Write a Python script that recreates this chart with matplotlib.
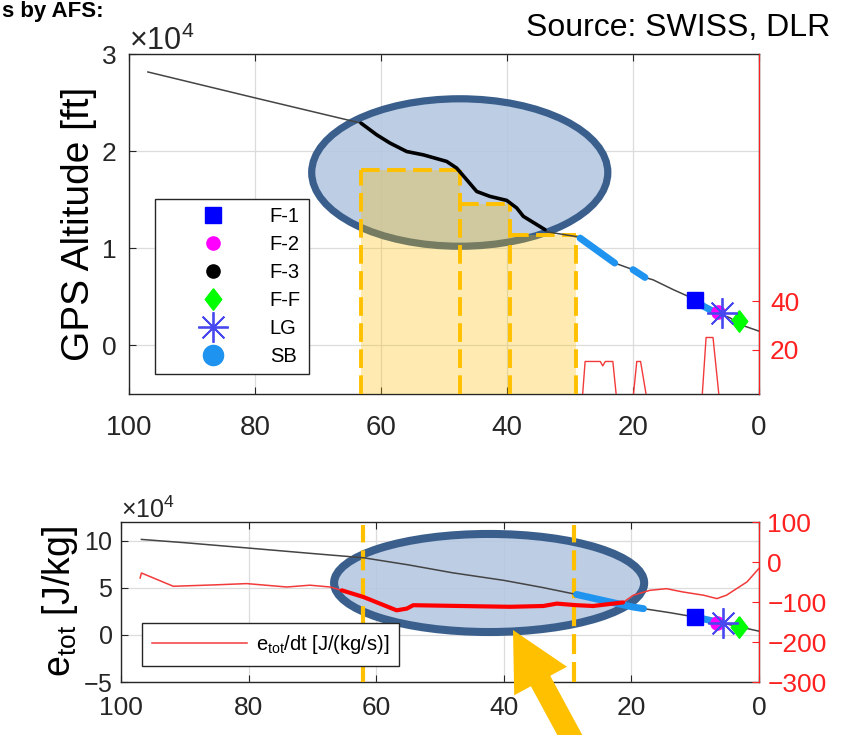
import matplotlib
matplotlib.use('Agg')
import matplotlib.pyplot as plt
import numpy as np
from matplotlib.patches import Ellipse, Rectangle, FancyArrow
from matplotlib.lines import Line2D
from matplotlib.ticker import ScalarFormatter

plt.rcParams['font.family'] = ['Liberation Sans', 'DejaVu Sans']
plt.rcParams['mathtext.fontset'] = 'custom'
plt.rcParams['mathtext.rm'] = 'Liberation Sans'
plt.rcParams['mathtext.it'] = 'Liberation Sans:italic'

# ---------------- data: top panel (distance [NM] vs GPS altitude [ft]) ----------------
alt_dist = [97.0, 80.3, 63.17, 60.68, 58.57, 55.92, 53.29, 49.57, 47.98, 46.40, 44.81,
            42.70, 40.05, 38.46, 37.41, 33.97, 33.7, 28.95, 28.4, 22.9, 20.0, 18.1,
            16.8, 13.6, 11.5, 10.2, 8.8, 7.3, 4.6, 3.0, 0.0]
alt_ft = [28150, 25530, 22880, 21680, 20830, 19960, 19620, 18940, 18250, 17060, 15850,
          15340, 14930, 14150, 13290, 11920, 11700, 11200, 11050, 8480, 7800, 7000,
          6750, 5740, 5130, 4700, 4030, 3520, 2840, 2150, 1470]
highlight_range = (63.17, 33.97)           # thick black part
sb_ranges_top = [(28.4, 22.9), (20.0, 18.1), (10.2, 7.3)]

# speed-brake / red signal on right axis (top)
red_top_dist = [29.0, 28.05, 27.6, 25.2, 24.8, 24.4, 23.2, 22.6, 20.0, 19.4, 18.8, 17.8,
                9.05, 8.4, 7.3, 6.3, 0.0]
red_top_val = [0, 0, 15.3, 15.3, 13.5, 15.3, 15.3, 0, 0, 15.3, 15.3, 0,
               0, 25.1, 25.1, 0, 0]

# events (top)
ev_labels = ['F-1', 'F-2', 'F-3', 'F-F', 'LG', 'SB']
ev_top_dist = {'F-1': 10.2, 'F-2': 6.5, 'LG': 5.8, 'F-F': 3.2}
ev_top_alt = {'F-1': 4700, 'F-2': 3450, 'LG': 3360, 'F-F': 2500}

# highlighted boxes (top)
box_edges = [63.1, 47.5, 39.6, 29.1]
box_tops = [18080, 14560, 11330]

# ---------------- data: bottom panel (total energy) ----------------
e_dist = [96.8, 90, 80, 70, 62, 55, 48, 40, 34, 28.6, 24, 19.7, 14, 10, 6, 3, 0]
e_tot = [101500, 98000, 92300, 86500, 82000, 74500, 66000, 58000, 50500, 43000, 36000,
         29600, 23700, 19000, 13000, 8500, 4000]
sb_ranges_bot = [(28.6, 18.1), (10.0, 7.2)]

de_dist = [97.0, 96.8, 91.8, 85.0, 80.3, 74.0, 70.4, 67.2, 65.4, 62.0, 56.8, 55.2, 54.2,
           43.7, 39.0, 33.8, 31.7, 28.6, 26.0, 21.3, 19.7, 17.1, 14.5, 11.9, 8.7, 6.6,
           5.1, 1.9, 0.0]
de_val = [-40, -27.5, -60.7, -57, -54, -62.5, -58, -62.5, -70.8, -87.5, -120.8, -116.5,
          -108, -110.8, -112, -110, -104, -108, -110, -101, -83, -70.8, -66.7, -75, -83,
          -91.5, -83, -50, -16]
de_thick_range = (65.4, 21.3)

ev_bot_dist = {'F-1': 10.0, 'F-2': 6.6, 'LG': 5.7, 'F-F': 3.1}
ev_bot_e = {'F-1': 18600, 'F-2': 12400, 'LG': 12400, 'F-F': 8500}

bot_marks = [62.1, 29.0]

# ---------------- styles ----------------
DARK = '#262626'
GRID = '#dcdcdc'
SB_C = '#1f93f0'
YEL = '#FFC000'
DASH = (0, (4.8, 1.9))
ELL_FACE = (0.706, 0.780, 0.882, 0.88)
ELL_EDGE = '#3A5F8C'
diamond = [(0, 1), (0.77, 0), (0, -1), (-0.77, 0), (0, 1)]
ev_style = {
    'F-1': dict(marker='s', color='#0000FF', ms=11),
    'F-2': dict(marker='o', color='#FF00FF', ms=9.5),
    'F-3': dict(marker='o', color='black', ms=9.5),
    'F-F': dict(marker=diamond, color='#00FF00', ms=15.5),
    'LG': dict(marker=(8, 2, 0), color='#4848f0', ms=22, mew=1.3),
    'SB': dict(marker='o', color=SB_C, ms=14.5),
}


def seg(xs, ys, lo_hi):
    hi, lo = lo_hi
    xs = np.asarray(xs, float); ys = np.asarray(ys, float)
    m = (xs <= hi + 1e-9) & (xs >= lo - 1e-9)
    return xs[m], ys[m]


fig = plt.figure(figsize=(8.43, 7.35), dpi=100)
ax1 = fig.add_axes([129 / 843, 1 - 394 / 735, 630 / 843, 340 / 735])
ax3 = fig.add_axes([121 / 843, 1 - 682 / 735, 638 / 843, 160 / 735])


def style_axis(ax, fs_x, fs_y, padx, pady):
    ax.set_xlim(100, 0)
    ax.set_xticks([100, 80, 60, 40, 20, 0])
    ax.grid(True, color=GRID, lw=0.9)
    ax.set_axisbelow(True)
    for s in ax.spines.values():
        s.set_color(DARK)
        s.set_linewidth(1.0)
    ax.tick_params(axis='x', direction='in', length=5, labelsize=fs_x, colors=DARK,
                   pad=padx, top=True)
    ax.tick_params(axis='y', direction='in', length=5, labelsize=fs_y, colors=DARK, pad=pady)
    fmt = ScalarFormatter(useMathText=True)
    fmt.set_powerlimits((4, 4))
    ax.yaxis.set_major_formatter(fmt)


# ---------------- top panel ----------------
style_axis(ax1, 20, 19, 15, 9)
ax1.set_ylim(-5000, 30000)
ax1.set_yticks([0, 10000, 20000, 30000])
ax1.yaxis.get_offset_text().set_fontsize(22)
ax1.yaxis.get_offset_text().set_color(DARK)
ax1.set_ylabel('GPS Altitude [ft]', fontsize=28, labelpad=3, color='black')

ax1.add_patch(Ellipse((47.5, 17800), 47.0, 15180, facecolor=ELL_FACE,
                      edgecolor=ELL_EDGE, lw=5.2, zorder=2))
for i in range(3):
    x0, x1 = box_edges[i], box_edges[i + 1]
    ax1.add_patch(Rectangle((x0, -5000), x1 - x0, box_tops[i] + 5000,
                            facecolor=YEL, alpha=0.3, edgecolor='none', zorder=3))
    ax1.plot([x0, x1], [box_tops[i], box_tops[i]], color=YEL, lw=2.8, ls=DASH,
             zorder=3.5)
for j, xe in enumerate(box_edges):
    neigh = [box_tops[k] for k in (j - 1, j) if 0 <= k < len(box_tops)]
    ax1.plot([xe, xe], [-5000, max(neigh)], color=YEL, lw=2.8, ls=DASH, zorder=3.5)

ax1.plot(alt_dist, alt_ft, color='#444444', lw=1.1, zorder=4)
hx, hy = seg(alt_dist, alt_ft, highlight_range)
ax1.plot(hx, hy, color='black', lw=2.6, zorder=4.2, solid_capstyle='round',
         solid_joinstyle='round')
for r in sb_ranges_top:
    sx, sy = seg(alt_dist, alt_ft, r)
    ax1.plot(sx, sy, color=SB_C, lw=5, zorder=4.3, solid_capstyle='round')
for k in ['F-1', 'F-F', 'F-2', 'LG']:
    st = dict(ev_style[k])
    ax1.plot([ev_top_dist[k]], [ev_top_alt[k]], ls='none', zorder=5,
             marker=st['marker'], color=st['color'], ms=st['ms'], mew=st.get('mew', 1))

handles = []
for k in ev_labels:
    st = ev_style[k]
    handles.append(Line2D([], [], ls='none', marker=st['marker'], color=st['color'],
                          ms=st['ms'], mew=st.get('mew', 1), label=k))
leg1 = ax1.legend(handles=handles, loc='upper left', bbox_to_anchor=(0.0413, 0.5735),
                  borderaxespad=0, fontsize=14.5, frameon=True, fancybox=False,
                  framealpha=1, edgecolor=DARK, borderpad=0.4, labelspacing=0.45,
                  handlelength=5.0, handletextpad=0.3)
leg1.get_frame().set_linewidth(1.0)
leg1.set_zorder(6)

ax2 = ax1.twinx()
ax2.set_xlim(100, 0)
ax2.set_ylim(2, 141)
ax2.set_yticks([20, 40])
ax2.plot(red_top_dist, red_top_val, color='#f23a3a', lw=1.0)
ax2.spines['right'].set_color('#FF2020')
for s in ['left', 'top', 'bottom']:
    ax2.spines[s].set_visible(False)
ax2.tick_params(axis='y', direction='in', length=5, labelsize=19, colors='#FF2020', pad=8)

# ---------------- bottom panel ----------------
style_axis(ax3, 19, 18, 10, 6)
ax3.set_ylim(-50000, 120000)
ax3.set_yticks([-50000, 0, 50000, 100000])
ax3.yaxis.get_offset_text().set_fontsize(18)
ax3.yaxis.get_offset_text().set_color(DARK)
ax3.set_ylabel(r'$\mathregular{e_{tot}}$ [J/kg]', fontsize=27, labelpad=2, color='black')

ax3.add_patch(Ellipse((42.3, 55200), 48.6, 104200, facecolor=ELL_FACE,
                      edgecolor=ELL_EDGE, lw=5.8, zorder=2))
for xm in bot_marks:
    ax3.axvline(xm, ymin=0.0, ymax=0.98, color=YEL, lw=3, ls=DASH, zorder=3)
ax3.plot(e_dist, e_tot, color='#444444', lw=1.1, zorder=4)
for r in sb_ranges_bot:
    xs = np.linspace(r[0], r[1], 20)
    ax3.plot(xs, np.interp(xs, e_dist[::-1], e_tot[::-1]), color=SB_C, lw=5, zorder=4.3,
             solid_capstyle='round')
for k in ['F-1', 'F-F', 'F-2', 'LG']:
    st = ev_style[k]
    ax3.plot([ev_bot_dist[k]], [ev_bot_e[k]], ls='none', zorder=5,
             marker=st['marker'], color=st['color'], ms=st['ms'], mew=st.get('mew', 1))

ax4 = ax3.twinx()
ax4.set_xlim(100, 0)
ax4.set_ylim(-300, 100)
ax4.set_yticks([-300, -200, -100, 0, 100])
ln, = ax4.plot(de_dist, de_val, color='#f23a3a', lw=1.1,
               label=r'$\mathregular{e_{tot}}$/dt [J/(kg/s)]')
tx, ty = seg(de_dist, de_val, de_thick_range)
ax4.plot(tx, ty, color='#FF0000', lw=3.0, solid_capstyle='round')
ax4.spines['right'].set_color('#FF2020')
for s in ['left', 'top', 'bottom']:
    ax4.spines[s].set_visible(False)
ax4.tick_params(axis='y', direction='in', length=5, labelsize=19, colors='#FF2020', pad=6)
leg2 = ax4.legend(handles=[ln], loc='upper left', bbox_to_anchor=(0.0329, 0.369),
                  borderaxespad=0, fontsize=14.5, frameon=True, fancybox=False,
                  framealpha=1, edgecolor=DARK, borderpad=0.5, handlelength=4.7,
                  handletextpad=0.45)
leg2.get_frame().set_linewidth(1.0)

# ---------------- annotations on figure ----------------
fig.text(0.002, 0.999, 's by AFS:', fontsize=16, fontweight='bold', va='top',
         ha='left')
fig.text(830 / 843, 1 - 36 / 735, 'Source: SWISS, DLR', fontsize=23, va='baseline',
         ha='right')

ov = fig.add_axes([0, 0, 1, 1], zorder=10)
ov.set_xlim(0, 843)
ov.set_ylim(735, 0)
ov.axis('off')
ov.add_patch(FancyArrow(579, 752, -66, -122, width=22, head_width=60, head_length=58,
                        length_includes_head=True, color=YEL, lw=0))

fig.savefig('out.png', dpi=100)
